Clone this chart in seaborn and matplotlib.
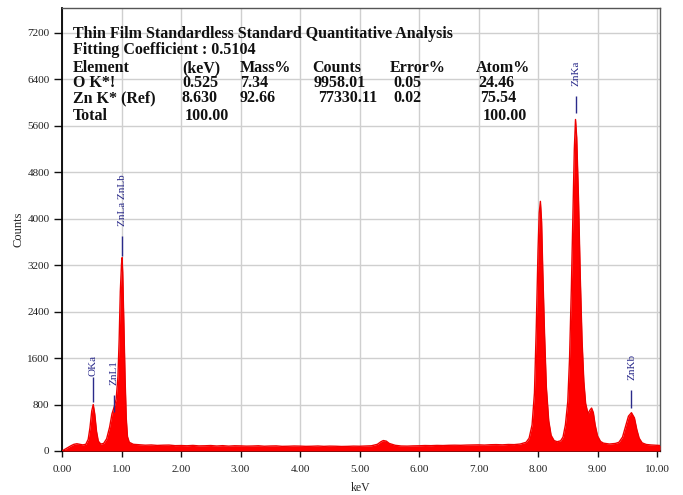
import numpy as np
import pandas as pd
import matplotlib
matplotlib.use("Agg")
import matplotlib.pyplot as plt
import seaborn as sns

# ---- data ----
energy_kev = [0.00, 0.05, 0.10, 0.15, 0.20, 0.25, 0.30, 0.35, 0.40, 0.44, 0.47, 0.50, 0.525, 0.55, 0.58,
              0.61, 0.65, 0.70, 0.75, 0.80, 0.84, 0.88, 0.91, 0.94, 0.96, 0.98, 1.00, 1.01, 1.02, 1.04,
              1.06, 1.08, 1.10, 1.13, 1.20, 1.30, 1.40, 1.50, 1.60, 1.70, 1.80, 1.90, 2.00, 2.10, 2.20,
              2.30, 2.40, 2.50, 2.60, 2.70, 2.80, 2.90, 3.00, 3.10, 3.20, 3.30, 3.40, 3.50, 3.60, 3.70,
              3.80, 3.90, 4.00, 4.10, 4.20, 4.30, 4.40, 4.50, 4.60, 4.70, 4.80, 4.90, 5.00, 5.10, 5.20,
              5.30, 5.36, 5.40, 5.45, 5.50, 5.60, 5.70, 5.80, 5.90, 6.00, 6.10, 6.20, 6.30, 6.40, 6.50,
              6.60, 6.70, 6.80, 6.90, 7.00, 7.10, 7.20, 7.30, 7.40, 7.50, 7.60, 7.70, 7.80, 7.85, 7.90,
              7.94, 7.97, 8.00, 8.02, 8.04, 8.06, 8.08, 8.11, 8.14, 8.18, 8.22, 8.27, 8.32, 8.38, 8.42,
              8.46, 8.50, 8.53, 8.56, 8.59, 8.61, 8.63, 8.65, 8.68, 8.71, 8.74, 8.77, 8.80, 8.84, 8.87,
              8.90, 8.93, 8.96, 9.00, 9.05, 9.10, 9.20, 9.30, 9.36, 9.42, 9.47, 9.52, 9.57, 9.62, 9.66,
              9.70, 9.75, 9.82, 9.90, 10.00, 10.05]
counts = [0, 30, 60, 90, 115, 125, 115, 105, 115, 200, 400, 690, 800, 640, 340,
          170, 120, 130, 210, 410, 640, 770, 890, 1280, 1900, 2750, 3220, 3330, 3080, 2200,
          1250, 560, 250, 150, 115, 108, 100, 104, 96, 100, 102, 92, 94, 90, 96,
          88, 90, 94, 86, 92, 84, 90, 88, 84, 86, 90, 82, 86, 88, 80,
          82, 86, 84, 80, 82, 86, 80, 84, 82, 78, 80, 84, 82, 86, 90,
          115, 160, 180, 170, 130, 98, 86, 84, 88, 90, 94, 92, 96, 94, 98,
          100, 98, 102, 104, 106, 102, 108, 110, 106, 112, 110, 120, 150, 220, 450,
          1000, 2100, 3450, 4100, 4300, 3950, 3100, 2000, 1100, 520, 270, 180, 160, 175, 240,
          450, 850, 1600, 2800, 4250, 5200, 5710, 5400, 4350, 3000, 1900, 1200, 820, 640, 700,
          740, 660, 450, 260, 165, 135, 120, 130, 150, 240, 420, 600, 660, 570, 370,
          220, 140, 112, 104, 98, 95]

peak_names = ["OKa", "ZnL1", "ZnLa ZnLb", "ZnKa", "ZnKb"]
peak_energies = [0.525, 0.88, 1.01, 8.63, 9.57]

x_ticks = [0, 1, 2, 3, 4, 5, 6, 7, 8, 9, 10]
y_ticks = [0, 800, 1600, 2400, 3200, 4000, 4800, 5600, 6400, 7200]

table_rows = [
    ["Element", "(keV)", "Mass%", "Counts", "Error%", "Atom%"],
    ["O K*!", "0.525", "7.34", "9958.01", "0.05", "24.46"],
    ["Zn K* (Ref)", "8.630", "92.66", "77330.11", "0.02", "75.54"],
    ["Total", "100.00", "", "", "", "100.00"],
]
title_line = "Thin Film Standardless Standard Quantitative Analysis"
fit_line = "Fitting Coefficient : 0.5104"

# ---- layout / style ----
W, H = 683, 495
sns.set_style("white")
plt.rcParams["font.family"] = ["Liberation Serif", "DejaVu Serif"]

fig = plt.figure(figsize=(W / 100, H / 100), dpi=100)
ax = fig.add_axes([62 / W, 1 - 451 / H, (660 - 62) / W, (451 - 8) / H])

df = pd.DataFrame({"keV": energy_kev, "Counts": counts})
ax.fill_between(df["keV"], 0, df["Counts"], color="#ff0000", linewidth=0, zorder=3)
sns.lineplot(data=df, x="keV", y="Counts", ax=ax, color="#ee0000", linewidth=1.0, zorder=4)

ax.set_xlim(0, 10.05)
ax.set_ylim(0, 7630)
ax.set_xticks(x_ticks)
ax.set_xticklabels([f"{v:.2f}" for v in x_ticks])
ax.set_yticks(y_ticks)
ax.set_yticklabels([str(v) for v in y_ticks])
ax.grid(True, color="#cfcfcf", linewidth=1.0, zorder=0)
ax.set_axisbelow(True)
ax.tick_params(axis="both", labelsize=8, colors="#111111", labelcolor="#222222")
ax.tick_params(axis="y", direction="out", length=6, width=1, left=True, pad=3)
ax.tick_params(axis="x", direction="out", length=4, width=1, bottom=True, pad=6)
ax.set_xlabel("keV", fontsize=8.5, labelpad=6)
ax.set_ylabel("Counts", fontsize=9, labelpad=2)
for side in ["left", "bottom"]:
    ax.spines[side].set_color("black")
    ax.spines[side].set_linewidth(1.3)
for side in ["top", "right"]:
    ax.spines[side].set_color("#555555")
    ax.spines[side].set_linewidth(1.0)

# peak labels with marker lines
navy = "#2a2a8a"
line_ranges = [(850, 1270), (680, 960), (3350, 3710), (5830, 6120), (740, 1050)]
label_bottoms = [1300, 1130, 3880, 6290, 1220]
for name, e, (y0, y1), yb in zip(peak_names, peak_energies, line_ranges, label_bottoms):
    ax.vlines(e, y0, y1, color=navy, linewidth=1.0, zorder=5)
    ax.text(e, yb, name, rotation=90, ha="center", va="bottom", color=navy,
            fontsize=8, zorder=6)

# quantitative analysis table
def fx(px):
    return px / W

def fy(py):
    return 1 - py / H

tkw = dict(fontsize=11.5, fontweight="bold", va="baseline", ha="left", color="#111111")
fig.text(fx(73), fy(38), title_line, **tkw)
fig.text(fx(73), fy(53.5), fit_line, **tkw)
col_x = [
    [73, 182, 240, 312, 390, 476],
    [73, 182, 240, 314, 393, 478],
    [73, 182, 240, 318, 393, 480],
    [73, 185, 0, 0, 0, 483],
]
row_y = [72, 87, 102.5, 119.5]
for r, row in enumerate(table_rows):
    for c, txt in enumerate(row):
        if txt:
            fig.text(fx(col_x[r][c]), fy(row_y[r]), txt, **tkw)

fig.savefig("out.png", dpi=100)
